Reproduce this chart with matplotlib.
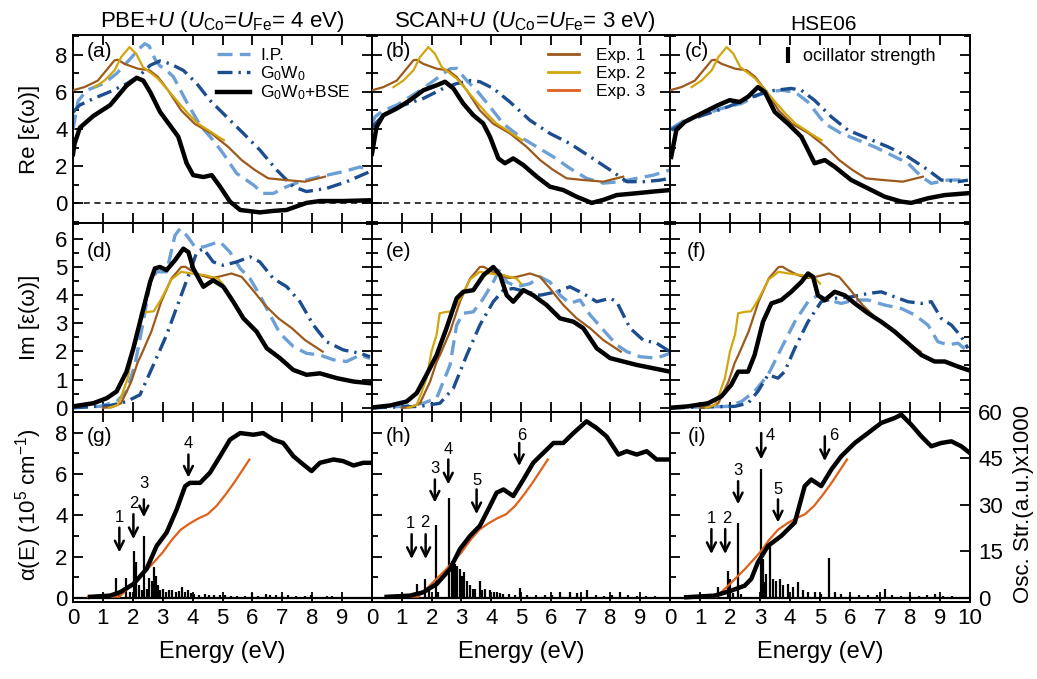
import matplotlib
matplotlib.use("Agg")
import matplotlib.pyplot as plt
from matplotlib.ticker import MultipleLocator
from matplotlib.lines import Line2D

plt.rcParams.update({
    "font.family": ["Liberation Sans", "DejaVu Sans"],
    "mathtext.fontset": "custom",
    "mathtext.rm": "Liberation Sans",
    "mathtext.it": "Liberation Sans:italic",
    "mathtext.bf": "Liberation Sans:bold",
})

# ---------------- experimental spectra (shared by all columns) ----------------
exp1_re_e = [0.0, 0.38, 0.83, 1.16, 1.39, 1.5, 1.72, 2.17, 2.56, 2.84, 3.18, 3.62, 4.07, 4.63, 5.19, 5.64, 6.08, 6.53, 7.09, 7.76, 8.43]
exp1_re_v = [6.08, 6.25, 6.6, 7.24, 7.69, 7.72, 7.5, 7.24, 7.15, 6.8, 6.08, 5.0, 4.28, 3.76, 3.04, 2.33, 1.8, 1.35, 1.26, 1.17, 1.44]
exp2_re_e = [0.72, 1.05, 1.39, 1.61, 1.89, 2.11, 2.34, 2.56, 2.84, 3.18, 3.51, 3.85, 4.18, 4.52, 4.86, 5.05]
exp2_re_v = [6.25, 6.6, 7.15, 7.86, 8.4, 8.05, 7.33, 7.06, 6.71, 6.08, 5.45, 4.83, 4.29, 3.94, 3.58, 3.4]

exp1_im_e = [1.0, 1.3, 1.61, 1.95, 2.16, 2.28, 2.62, 2.95, 3.29, 3.62, 3.75, 3.93, 4.27, 4.6, 4.85, 5.3, 5.64, 5.97, 6.42, 6.87, 7.32, 7.76, 8.35]
exp1_im_v = [0.0, 0.02, 0.16, 0.93, 1.6, 1.87, 2.7, 3.76, 4.58, 4.99, 5.0, 4.88, 4.7, 4.6, 4.64, 4.76, 4.64, 4.23, 3.64, 3.17, 2.82, 2.4, 1.99]
exp2_im_e = [1.2, 1.5, 1.65, 1.83, 2.0, 2.17, 2.27, 2.5, 2.7, 2.95, 3.29, 3.62, 3.96, 4.41, 4.85, 5.0]
exp2_im_v = [0.0, 0.1, 0.5, 1.05, 2.0, 2.6, 3.35, 3.4, 3.42, 3.85, 4.55, 4.82, 4.76, 4.7, 4.58, 4.4]

exp3_abs_e = [0.5, 1.55, 1.8, 2.05, 2.5, 3.0, 3.3, 3.6, 3.9, 4.2, 4.5, 4.8, 5.1, 5.4, 5.9]
exp3_abs_v = [0.05, 0.06, 0.4, 0.75, 1.4, 2.2, 2.8, 3.3, 3.6, 3.85, 4.05, 4.45, 5.0, 5.6, 6.7]

# ---------------- Re[eps] ----------------
a_ip_e = [0.0, 0.17, 0.46, 1.02, 1.46, 1.91, 2.2, 2.4, 2.55, 2.74, 2.9, 3.1, 3.36, 3.8, 4.25, 4.69, 5.03, 5.47, 6.03, 6.36, 6.7, 7.14, 7.59, 8.26, 9.04, 9.6, 9.93]
a_ip_v = [3.97, 5.5, 6.08, 6.44, 6.98, 7.76, 8.3, 8.58, 8.45, 7.76, 7.4, 7.2, 6.8, 5.45, 4.2, 3.39, 2.67, 1.62, 1.0, 0.54, 0.54, 0.9, 1.17, 1.44, 1.71, 1.96, 1.76]
a_gw_e = [0.0, 0.22, 0.68, 1.35, 1.8, 2.24, 2.58, 2.91, 3.24, 3.69, 4.14, 4.58, 5.14, 5.7, 6.25, 6.81, 7.37, 7.81, 8.48, 9.15, 9.93]
a_gw_v = [4.9, 5.28, 5.63, 6.08, 6.44, 6.89, 7.42, 7.66, 7.51, 7.15, 6.44, 5.54, 4.65, 3.76, 2.87, 1.8, 0.9, 0.64, 0.81, 1.17, 1.71]
a_bse_e = [0.0, 0.05, 0.23, 0.68, 1.24, 1.79, 2.13, 2.35, 2.58, 2.91, 3.24, 3.52, 3.8, 4.02, 4.36, 4.64, 4.92, 5.25, 5.59, 6.25, 6.7, 7.14, 7.81, 8.26, 9.04, 9.93]
a_bse_v = [2.65, 3.2, 4.07, 4.7, 5.28, 6.33, 6.75, 6.6, 5.99, 4.92, 4.2, 3.59, 2.16, 1.52, 1.42, 1.52, 0.9, 0.1, -0.35, -0.48, -0.4, -0.35, 0.03, 0.13, 0.13, 0.17]

b_ip_e = [0.0, 0.1, 0.38, 0.83, 1.28, 1.72, 2.17, 2.62, 2.84, 3.18, 3.51, 3.96, 4.4, 4.97, 5.53, 6.08, 6.64, 7.2, 7.76, 8.32, 8.88, 9.44, 10.0]
b_ip_v = [4.3, 4.65, 5.0, 5.28, 5.73, 6.18, 6.71, 7.24, 7.26, 6.6, 6.08, 5.19, 4.29, 3.58, 3.04, 2.51, 1.89, 1.35, 1.09, 1.17, 1.35, 1.52, 1.8]
b_gw_e = [0.0, 0.38, 1.05, 1.72, 2.39, 2.84, 3.29, 3.62, 4.07, 4.63, 5.3, 5.97, 6.64, 7.32, 7.99, 8.55, 9.1, 9.66, 10.0]
b_gw_v = [4.1, 4.74, 5.28, 5.64, 6.18, 6.44, 6.6, 6.54, 6.18, 5.45, 4.47, 3.76, 3.22, 2.51, 1.8, 1.17, 1.17, 1.25, 1.35]
b_bse_e = [0.0, 0.15, 0.38, 0.83, 1.28, 1.72, 2.17, 2.45, 2.73, 3.06, 3.4, 3.73, 3.96, 4.24, 4.46, 4.74, 5.08, 5.53, 5.97, 6.42, 6.87, 7.37, 7.76, 8.21, 8.88, 9.44, 10.0]
b_bse_v = [2.67, 4.1, 4.74, 5.1, 5.55, 6.08, 6.35, 6.54, 6.18, 5.37, 4.74, 4.3, 3.58, 2.42, 2.16, 2.42, 2.06, 1.44, 0.9, 0.72, 0.36, 0.03, 0.19, 0.45, 0.55, 0.64, 0.72]

c_ip_e = [0.04, 0.49, 1.04, 1.71, 2.38, 2.93, 3.27, 3.71, 4.16, 4.6, 5.16, 5.71, 6.27, 6.82, 7.49, 7.93, 8.38, 8.71, 9.27, 9.93]
c_ip_v = [4.03, 4.47, 4.74, 5.1, 5.37, 5.81, 5.99, 6.08, 5.99, 5.45, 4.29, 3.76, 3.4, 3.04, 2.51, 2.16, 1.44, 1.08, 1.26, 1.26]
c_gw_e = [0.04, 0.6, 1.27, 1.93, 2.6, 3.04, 3.49, 4.04, 4.38, 4.82, 5.38, 5.93, 6.6, 7.27, 7.93, 8.6, 9.04, 9.6, 9.93]
c_gw_v = [3.94, 4.47, 4.83, 5.19, 5.64, 5.9, 6.08, 6.18, 6.08, 5.54, 4.65, 3.94, 3.49, 3.04, 2.51, 1.8, 1.26, 1.17, 1.25]
c_bse_e = [0.04, 0.21, 0.49, 1.04, 1.6, 1.99, 2.32, 2.6, 2.93, 3.16, 3.49, 3.93, 4.38, 4.82, 5.16, 5.49, 6.04, 6.6, 7.16, 7.71, 8.04, 8.6, 9.16, 9.93]
c_bse_v = [2.5, 3.94, 4.38, 4.83, 5.28, 5.55, 5.45, 5.73, 6.25, 5.99, 4.92, 4.29, 3.58, 2.16, 2.33, 1.97, 1.26, 0.81, 0.36, 0.1, 0.03, 0.28, 0.45, 0.55]

# ---------------- Im[eps] ----------------
d_ip_e = [0.0, 0.9, 1.46, 1.79, 2.07, 2.35, 2.58, 2.8, 3.13, 3.41, 3.58, 3.8, 4.08, 4.36, 4.69, 4.92, 5.25, 5.59, 5.92, 6.25, 6.59, 6.92, 7.37, 7.81, 8.26, 8.71, 9.15, 9.6, 9.93]
d_ip_v = [0.01, 0.05, 0.22, 0.58, 1.52, 3.05, 4.46, 4.82, 4.82, 6.11, 6.35, 6.11, 5.7, 5.7, 5.82, 5.88, 5.52, 4.94, 4.58, 3.99, 3.29, 2.64, 2.17, 1.93, 1.87, 1.7, 1.64, 1.87, 1.75]
d_gw_e = [0.0, 1.24, 1.79, 2.24, 2.69, 3.13, 3.58, 3.91, 4.14, 4.36, 4.69, 5.03, 5.47, 5.92, 6.25, 6.7, 7.15, 7.59, 8.04, 8.48, 9.04, 9.6, 9.93]
d_gw_v = [0.0, 0.08, 0.22, 0.46, 1.52, 2.58, 3.88, 4.82, 5.52, 5.64, 5.17, 5.05, 5.17, 5.35, 5.17, 4.58, 4.29, 3.76, 2.93, 2.34, 2.05, 1.93, 1.81]
d_bse_e = [0.0, 0.68, 1.13, 1.46, 1.79, 2.02, 2.3, 2.58, 2.74, 2.91, 3.13, 3.41, 3.69, 3.86, 4.02, 4.36, 4.69, 5.03, 5.36, 5.7, 6.14, 6.48, 6.92, 7.37, 7.81, 8.26, 8.82, 9.38, 9.93]
d_bse_v = [0.05, 0.16, 0.34, 0.58, 1.28, 2.11, 3.29, 4.46, 4.94, 4.99, 4.88, 5.23, 5.64, 5.52, 4.94, 4.29, 4.52, 4.29, 3.76, 3.17, 2.7, 2.11, 1.76, 1.34, 1.17, 1.22, 1.05, 0.93, 0.87]

e_ip_e = [0.0, 1.05, 1.72, 2.17, 2.62, 2.84, 3.06, 3.4, 3.74, 4.07, 4.3, 4.52, 4.85, 5.3, 5.64, 5.97, 6.31, 6.64, 6.98, 7.32, 7.76, 8.21, 8.55, 8.99, 9.55, 10.0]
e_ip_v = [0.0, 0.05, 0.16, 0.34, 1.52, 2.93, 3.35, 3.4, 3.88, 4.46, 4.94, 4.46, 4.29, 4.4, 4.64, 4.46, 3.99, 3.7, 3.82, 3.29, 2.76, 2.23, 1.99, 1.81, 1.76, 1.93]
e_gw_e = [0.0, 1.61, 2.28, 2.73, 3.18, 3.62, 4.07, 4.41, 4.74, 5.19, 5.64, 6.2, 6.64, 7.09, 7.54, 7.99, 8.21, 8.66, 9.1, 9.55, 10.0]
e_gw_v = [0.0, 0.05, 0.16, 0.69, 1.87, 2.93, 3.76, 4.17, 4.23, 4.11, 3.99, 4.11, 4.29, 4.05, 3.76, 3.88, 3.76, 2.82, 2.4, 2.29, 1.99]
e_bse_e = [0.0, 0.6, 1.16, 1.5, 1.83, 2.17, 2.5, 2.84, 3.06, 3.4, 3.74, 4.07, 4.3, 4.52, 4.74, 5.08, 5.41, 5.86, 6.31, 6.76, 7.09, 7.54, 7.99, 8.43, 8.88, 9.44, 10.0]
e_bse_v = [0.01, 0.08, 0.22, 0.52, 1.17, 1.87, 2.82, 3.88, 4.11, 4.17, 4.7, 4.99, 4.7, 3.99, 3.76, 4.17, 3.99, 3.64, 3.17, 3.05, 2.82, 2.11, 1.76, 1.64, 1.52, 1.4, 1.28]

f_ip_e = [0.0, 1.93, 2.38, 2.82, 3.27, 3.71, 4.16, 4.6, 4.93, 5.27, 5.71, 6.16, 6.6, 7.16, 7.71, 8.16, 8.6, 8.93, 9.27, 9.6, 9.93]
f_ip_v = [0.0, 0.05, 0.22, 0.58, 1.17, 2.11, 3.05, 3.76, 3.99, 3.82, 3.7, 3.82, 3.82, 3.64, 3.52, 3.29, 2.93, 2.34, 2.23, 2.29, 1.99]
f_gw_e = [0.0, 2.16, 2.6, 2.93, 3.27, 3.6, 3.82, 4.16, 4.6, 5.04, 5.49, 6.04, 6.6, 7.04, 7.49, 7.93, 8.38, 8.71, 9.04, 9.38, 9.71, 9.93]
f_gw_v = [0.0, 0.05, 0.16, 0.58, 1.17, 1.05, 1.28, 2.11, 3.05, 3.76, 3.88, 3.93, 4.05, 4.11, 3.93, 3.76, 3.7, 3.76, 3.17, 2.93, 2.52, 2.11]
f_bse_e = [0.0, 0.6, 1.27, 1.71, 2.04, 2.27, 2.6, 2.82, 3.1, 3.38, 3.71, 4.04, 4.38, 4.6, 4.77, 4.93, 5.16, 5.49, 5.82, 6.16, 6.6, 7.04, 7.49, 7.93, 8.38, 8.82, 9.16, 9.6, 9.93]
f_bse_v = [0.0, 0.05, 0.16, 0.4, 0.81, 1.28, 1.28, 1.87, 3.05, 3.7, 3.82, 4.11, 4.46, 4.76, 4.64, 3.99, 3.82, 4.11, 3.99, 3.7, 3.35, 3.05, 2.7, 2.29, 1.87, 1.64, 1.64, 1.46, 1.34]

# ---------------- absorption alpha(E) ----------------
g_abs_e = [0.57, 1.24, 1.57, 2.02, 2.46, 2.8, 3.13, 3.47, 3.75, 3.91, 4.25, 4.58, 4.92, 5.25, 5.59, 6.03, 6.36, 6.7, 7.03, 7.37, 7.7, 7.98, 8.26, 8.71, 9.04, 9.38, 9.71, 9.99]
g_abs_v = [0.05, 0.11, 0.27, 0.67, 1.4, 2.52, 3.16, 4.29, 5.41, 5.57, 5.57, 6.06, 6.86, 7.66, 7.98, 7.9, 7.98, 7.66, 7.5, 6.86, 6.46, 6.14, 6.54, 6.7, 6.62, 6.41, 6.54, 6.54]
h_abs_e = [0.49, 1.28, 1.72, 2.17, 2.62, 2.95, 3.29, 3.62, 3.96, 4.18, 4.41, 4.74, 5.08, 5.41, 5.75, 6.09, 6.42, 6.76, 7.2, 7.54, 7.87, 8.27, 8.55, 8.88, 9.22, 9.55, 10.0]
h_abs_v = [0.05, 0.11, 0.27, 0.67, 1.4, 2.36, 3.0, 3.49, 4.45, 5.09, 5.25, 4.93, 5.73, 6.54, 7.02, 7.5, 7.5, 7.98, 8.55, 8.22, 7.82, 6.94, 7.1, 6.94, 7.1, 6.7, 6.7]
i_abs_e = [0.54, 1.49, 2.04, 2.49, 2.71, 2.93, 3.27, 3.71, 4.16, 4.49, 4.71, 5.04, 5.38, 5.71, 6.16, 6.6, 7.04, 7.49, 7.71, 8.04, 8.38, 8.71, 9.04, 9.38, 9.71, 9.99]
i_abs_v = [0.03, 0.11, 0.35, 0.59, 0.92, 1.72, 2.52, 3.0, 3.65, 5.41, 5.73, 5.41, 6.22, 6.86, 7.5, 7.98, 8.47, 8.71, 8.87, 8.39, 7.82, 7.34, 7.5, 7.58, 7.34, 7.02]

# ---------------- oscillator strengths (a.u. x1000) ----------------
g_osc_e = [1.45, 1.55, 1.78, 1.9, 2.05, 2.12, 2.2, 2.3, 2.39, 2.47, 2.55, 2.63, 2.7, 2.76, 2.83, 2.9, 3.0, 3.1, 3.2, 3.3,
           3.45, 3.55, 3.65, 3.75, 3.85, 3.95, 4.05, 4.2, 4.4, 4.55, 4.7, 4.9, 5.1, 5.3, 5.5, 5.75, 6.0, 6.2, 6.45, 6.6,
           6.8, 7.0, 7.2, 7.45, 7.75, 7.95, 8.2, 8.5, 8.65, 8.9, 9.2, 9.5, 9.8]
g_osc_f = [6.5, 1.0, 6.5, 2.0, 15.0, 11.5, 4.0, 2.5, 20.0, 3.0, 6.5, 5.5, 10.0, 7.0, 4.0, 2.5, 3.0, 2.0, 2.5, 2.5,
           2.0, 2.2, 3.5, 2.0, 2.5, 1.5, 1.2, 1.0, 1.2, 1.0, 1.0, 0.8, 0.8, 0.6, 0.7, 0.6, 1.5, 0.6, 1.2, 0.8,
           1.0, 0.6, 0.8, 0.6, 0.5, 0.8, 0.4, 0.5, 0.6, 0.3, 0.3, 0.4, 0.3]
h_osc_e = [1.5, 1.78, 1.92, 2.14, 2.22, 2.58, 2.67, 2.73, 2.79, 2.86, 2.95, 3.02, 3.1, 3.18, 3.29, 3.38, 3.46, 3.62, 3.7, 3.79,
           3.96, 4.1, 4.18, 4.3, 4.4, 4.6, 4.8, 4.97, 5.2, 5.5, 5.8, 6.05, 6.3, 6.64, 6.87, 7.2, 7.5, 7.8, 8.05, 8.32,
           8.6, 8.9, 9.2, 9.5, 9.8]
h_osc_f = [4.5, 6.1, 2.9, 23.4, 2.0, 32.3, 12.0, 11.0, 10.9, 10.4, 9.3, 7.0, 8.2, 5.6, 4.0, 3.0, 2.9, 5.6, 2.5, 2.9,
           2.4, 2.0, 1.8, 1.5, 1.3, 1.2, 1.0, 3.1, 1.0, 0.8, 1.0, 0.8, 1.8, 2.0, 1.6, 2.4, 0.8, 0.6, 1.0, 2.0,
           0.9, 0.6, 0.6, 0.5, 0.4]
i_osc_e = [1.6, 1.93, 2.01, 2.1, 2.27, 2.35, 3.02, 3.09, 3.15, 3.21, 3.32, 3.43, 3.54, 3.66, 3.77, 3.93, 4.1, 4.27, 4.43, 4.6,
           4.82, 5.04, 5.29, 5.49, 5.7, 6.0, 6.3, 6.6, 6.9, 7.16, 7.4, 7.7, 8.0, 8.3, 8.55, 8.82, 9.1, 9.4, 9.7]
i_osc_f = [3.6, 8.6, 6.1, 1.5, 24.3, 1.2, 41.5, 12.5, 5.0, 7.7, 16.8, 6.1, 5.6, 6.1, 4.0, 4.5, 3.4, 5.0, 2.4, 1.8,
           1.8, 1.3, 13.0, 2.0, 1.2, 0.8, 0.9, 1.0, 0.8, 2.9, 1.0, 0.6, 0.8, 0.7, 0.8, 1.3, 0.6, 0.5, 0.4]

# transition markers: energy, arrow tail, arrow tip, label
g_marks = [(1.55, 3.4, 2.2, "1"), (2.02, 4.05, 2.84, "2"), (2.37, 4.77, 3.9, "3"), (3.86, 6.94, 5.82, "4")]
h_marks = [(1.33, 3.08, 1.88, "1"), (1.8, 3.08, 1.88, "2"), (2.11, 5.73, 4.61, "3"), (2.56, 6.7, 5.49, "4"),
           (3.51, 5.25, 4.05, "5"), (4.94, 7.5, 6.38, "6")]
i_marks = [(1.38, 3.33, 2.12, "1"), (1.84, 3.33, 2.12, "2"), (2.27, 5.65, 4.53, "3"), (3.04, 7.98, 6.7, "4"),
           (3.6, 4.77, 3.65, "5"), (5.16, 7.82, 6.62, "6")]
# label offsets (dE, dv) relative to the arrow tail
g_lab = [(0, 0.5), (0, 0.5), (0, 0.75), (0, 0.55)]
h_lab = [(-0.05, 0.5), (-0.02, 0.55), (0, 0.55), (0, 0.5), (0, 0.45), (0.08, 0.35)]
i_lab = [(0, 0.5), (0.04, 0.5), (0, 0.5), (0.3, -0.1), (0, 0.5), (0.3, 0.05)]

titles = [r"PBE+$U$ ($U_{\rm Co}$=$U_{\rm Fe}$= 4 eV)", r"SCAN+$U$ ($U_{\rm Co}$=$U_{\rm Fe}$= 3 eV)", "HSE06"]
letters = [["(a)", "(b)", "(c)"], ["(d)", "(e)", "(f)"], ["(g)", "(h)", "(i)"]]

C_IP = "#6b9fd6"
C_GW = "#1c4d8e"
C_E1 = "#9c5a1c"
C_E2 = "#d1a60e"
C_E3 = "#df611b"
LS_IP = (0, (4.5, 2.2))
LS_GW = (0, (4.5, 1.8, 0.7, 1.8))
LW_TH = 2.4
LW_BSE = 3.2
LW_EXP = 1.6

W, H = 1037, 679
fig = plt.figure(figsize=(W / 100, H / 100), dpi=100)
col_px = [(73, 372), (372, 670), (670, 970)]
row_px = [(35, 223), (223, 412), (412, 602)]

re_sets = [(a_ip_e, a_ip_v, a_gw_e, a_gw_v, a_bse_e, a_bse_v),
           (b_ip_e, b_ip_v, b_gw_e, b_gw_v, b_bse_e, b_bse_v),
           (c_ip_e, c_ip_v, c_gw_e, c_gw_v, c_bse_e, c_bse_v)]
im_sets = [(d_ip_e, d_ip_v, d_gw_e, d_gw_v, d_bse_e, d_bse_v),
           (e_ip_e, e_ip_v, e_gw_e, e_gw_v, e_bse_e, e_bse_v),
           (f_ip_e, f_ip_v, f_gw_e, f_gw_v, f_bse_e, f_bse_v)]
abs_sets = [(g_abs_e, g_abs_v, g_osc_e, g_osc_f, g_marks, g_lab),
            (h_abs_e, h_abs_v, h_osc_e, h_osc_f, h_marks, h_lab),
            (i_abs_e, i_abs_v, i_osc_e, i_osc_f, i_marks, i_lab)]

ylims = [(-1.05, 9.05), (-0.15, 6.55), (-0.2, 9.0)]
ymaj = [2, 1, 2]
ymin = [1, 0.5, 1]
letter_y = [0.91, 0.85, 0.87]
TICK_FS = 16


def style(ax, r, c):
    ax.set_xlim(0, 10)
    ax.set_ylim(*ylims[r])
    ax.xaxis.set_major_locator(MultipleLocator(1))
    ax.yaxis.set_major_locator(MultipleLocator(ymaj[r]))
    ax.yaxis.set_minor_locator(MultipleLocator(ymin[r]))
    ax.tick_params(which="both", direction="in", top=True, right=True, width=1.3,
                   labelsize=TICK_FS, pad=4)
    ax.tick_params(which="major", length=7)
    ax.tick_params(which="minor", length=4)
    ax.tick_params(labelleft=(c == 0), labelbottom=(r == 2))
    for s in ax.spines.values():
        s.set_linewidth(1.4)
    if r == 0:
        ax.set_yticks([0, 2, 4, 6, 8])
    if r == 2:
        ax.set_xticks(range(11))
        if c < 2:
            ax.set_xticklabels([str(i) for i in range(10)] + [""])
        else:
            ax.set_xticklabels([str(i) for i in range(11)])
    ax.text(0.09, letter_y[r], letters[r][c], transform=ax.transAxes, ha="center", va="center", fontsize=15)


for r, (t, b) in enumerate(row_px):
    for c, (l, rr) in enumerate(col_px):
        ax = fig.add_axes([l / W, 1 - b / H, (rr - l) / W, (b - t) / H])
        style(ax, r, c)
        if r < 2:
            ip_e, ip_v, gw_e, gw_v, bse_e, bse_v = (re_sets if r == 0 else im_sets)[c]
            if r == 0:
                ax.axhline(0, color="k", lw=1.1, ls=(0, (4, 3)), zorder=1)
                e1e, e1v, e2e, e2v = exp1_re_e, exp1_re_v, exp2_re_e, exp2_re_v
            else:
                e1e, e1v, e2e, e2v = exp1_im_e, exp1_im_v, exp2_im_e, exp2_im_v
            ax.plot(ip_e, ip_v, color=C_IP, lw=LW_TH, ls=LS_IP, zorder=2)
            ax.plot(gw_e, gw_v, color=C_GW, lw=LW_TH, ls=LS_GW, zorder=2)
            ax.plot(e1e, e1v, color=C_E1, lw=LW_EXP, zorder=3)
            ax.plot(e2e, e2v, color=C_E2, lw=LW_EXP, zorder=3)
            ax.plot(bse_e, bse_v, color="k", lw=LW_BSE, zorder=4)
        else:
            abs_e, abs_v, osc_e, osc_f, marks, labs = abs_sets[c]
            ax2 = ax.twinx()
            ax2.set_ylim(-0.2 * 60 / 9, 60)
            ax2.vlines(osc_e, 0, osc_f, color="k", lw=1.6)
            ax2.axhline(0, color="k", lw=1.6)
            for s in ax2.spines.values():
                s.set_linewidth(1.4)
            if c == 2:
                ax2.yaxis.set_major_locator(MultipleLocator(15))
                ax2.tick_params(direction="in", length=7, width=1.3, labelsize=TICK_FS, pad=6)
            else:
                ax2.set_yticks([])
            ax.set_zorder(ax2.get_zorder() + 1)
            ax.patch.set_visible(False)
            ax.plot(exp3_abs_e, exp3_abs_v, color=C_E3, lw=LW_EXP, zorder=3)
            ax.plot(abs_e, abs_v, color="k", lw=LW_BSE, zorder=4)
            for (me, top, tip, lab), (dx, dy) in zip(marks, labs):
                ax.annotate("", xy=(me, tip), xytext=(me, top),
                            arrowprops=dict(arrowstyle="->", lw=1.8, color="k", mutation_scale=16,
                                            shrinkA=0, shrinkB=0))
                ax.text(me + dx, top + dy, lab, ha="center", va="center", fontsize=12)
            fig.text((l + rr) / 2 / W, 1 - 652 / H, "Energy (eV)", ha="center", va="center", fontsize=17)

        if r == 0 and c == 0:
            hs = [Line2D([], [], color=C_IP, lw=LW_TH, ls=LS_IP),
                  Line2D([], [], color=C_GW, lw=LW_TH, ls=LS_GW),
                  Line2D([], [], color="k", lw=LW_BSE)]
            ax.legend(hs, ["I.P.", r"G$_0$W$_0$", r"G$_0$W$_0$+BSE"], loc="upper left",
                      bbox_to_anchor=(0.48, 0.93), frameon=False, fontsize=12.5, handlelength=1.9,
                      handletextpad=0.6, labelspacing=0.05, borderpad=0, borderaxespad=0)
        if r == 0 and c == 1:
            hs = [Line2D([], [], color=C_E1, lw=2.0), Line2D([], [], color=C_E2, lw=2.0),
                  Line2D([], [], color=C_E3, lw=2.0)]
            ax.legend(hs, ["Exp. 1", "Exp. 2", "Exp. 3"], loc="upper left",
                      bbox_to_anchor=(0.59, 0.93), frameon=False, fontsize=12.5, handlelength=1.8,
                      handletextpad=1.0, labelspacing=0.15, borderpad=0, borderaxespad=0)
        if r == 0 and c == 2:
            hs = [Line2D([], [], color="k", marker="|", ls="none", ms=11, mew=3)]
            ax.legend(hs, ["ocillator strength"], loc="upper left", bbox_to_anchor=(0.37, 0.93),
                      frameon=False, fontsize=13, handlelength=0.8, handletextpad=0.4,
                      borderpad=0, borderaxespad=0)

# column titles
fig.text(222 / W, 1 - 27 / H, titles[0], ha="center", va="baseline", fontsize=16)
fig.text(525 / W, 1 - 27 / H, titles[1], ha="center", va="baseline", fontsize=16)
fig.text(823 / W, 1 - 30 / H, titles[2], ha="center", va="baseline", fontsize=15)

# axis titles
fig.text(29 / W, 1 - 129 / H, "Re [ε(ω)]", rotation=90, ha="center", va="center", fontsize=16)
fig.text(29 / W, 1 - 317 / H, "Im [ε(ω)]", rotation=90, ha="center", va="center", fontsize=16)
fig.text(29 / W, 1 - 505 / H, r"α(E) (10$^5$ cm$^{-1}$)", rotation=90, ha="center", va="center", fontsize=16)
fig.text(1024 / W, 1 - 504 / H, "Osc. Str.(a.u.)x1000", rotation=90, ha="center", va="center", fontsize=16)

fig.savefig("out.png", dpi=100)
